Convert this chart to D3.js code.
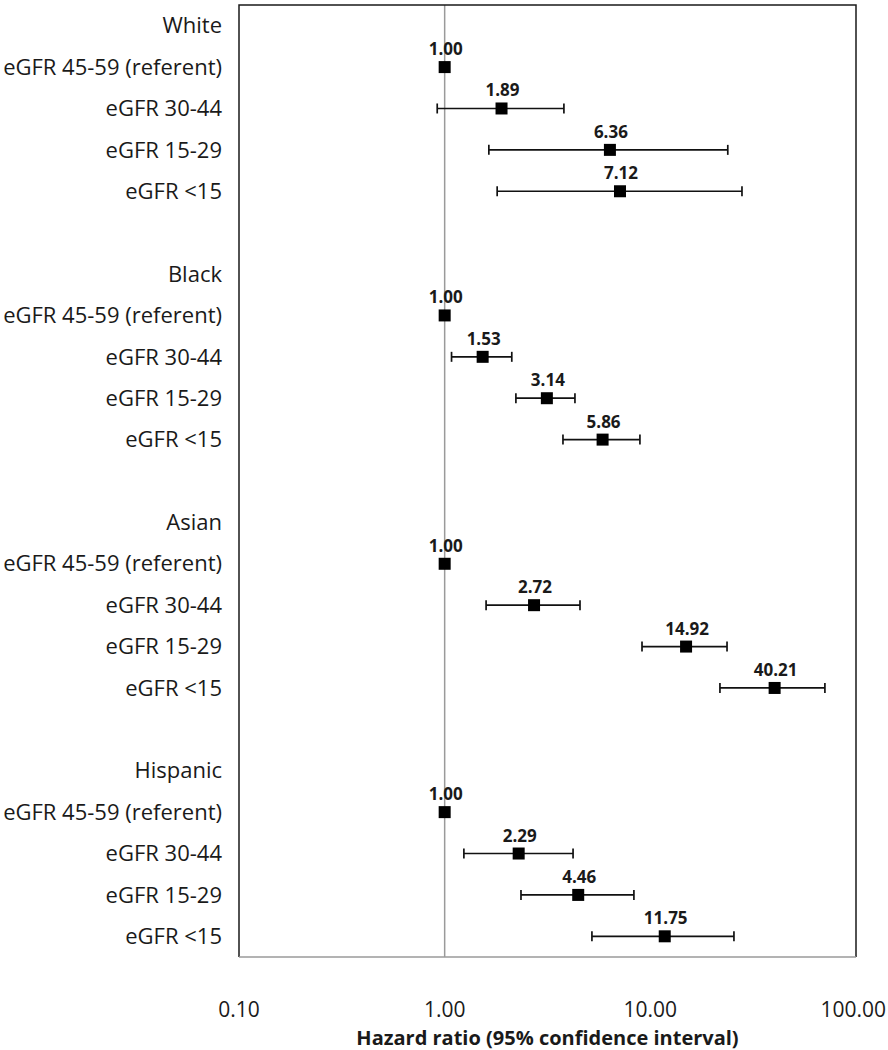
<!DOCTYPE html>
<html>
<head>
<meta charset="utf-8">
<script src="https://cdn.jsdelivr.net/npm/d3@7"></script>
<style>
  html, body { margin: 0; padding: 0; background: #fff; }
  svg { display: block; }
  text { font-family: "Open Sans", sans-serif; fill: #1a1a1a; }
</style>
</head>
<body>
<svg id="chart" width="888" height="1050"></svg>
<script>
// ---- data ----
const groups = ["White", "Black", "Asian", "Hispanic"];
const categories = ["eGFR 45-59 (referent)", "eGFR 30-44", "eGFR 15-29", "eGFR <15"];
const hrWhite    = [1.00, 1.89, 6.36, 7.12];
const hrBlack    = [1.00, 1.53, 3.14, 5.86];
const hrAsian    = [1.00, 2.72, 14.92, 40.21];
const hrHispanic = [1.00, 2.29, 4.46, 11.75];
const loWhite    = [null, 0.92, 1.64, 1.80];
const loBlack    = [null, 1.08, 2.22, 3.76];
const loAsian    = [null, 1.59, 9.11, 21.8];
const loHispanic = [null, 1.24, 2.35, 5.20];
const hiWhite    = [null, 3.80, 23.8, 27.9];
const hiBlack    = [null, 2.12, 4.30, 8.90];
const hiAsian    = [null, 4.55, 23.6, 70.6];
const hiHispanic = [null, 4.21, 8.32, 25.5];
const tickValues = [0.1, 1, 10, 100];
const xTitle = "Hazard ratio (95% confidence interval)";

const hrs = [hrWhite, hrBlack, hrAsian, hrHispanic];
const los = [loWhite, loBlack, loAsian, loHispanic];
const his = [hiWhite, hiBlack, hiAsian, hiHispanic];

// build rows: header, 4 categories, blank (between groups)
const rows = [];
groups.forEach((g, gi) => {
  rows.push({ key: "h" + gi, label: g, type: "header" });
  categories.forEach((c, ci) => {
    rows.push({ key: "r" + gi + "_" + ci, label: c, type: "row",
      hr: hrs[gi][ci], lo: los[gi][ci], hi: his[gi][ci] });
  });
  if (gi < groups.length - 1) rows.push({ key: "b" + gi, label: "", type: "blank" });
});

// ---- layout ----
const W = 888;
const box = { left: 239, right: 856, top: 5, bottom: 957 };
const svg = d3.select("#chart");

const x = d3.scaleLog().domain([0.1, 100]).range([box.left, box.right]);
const y = d3.scaleBand().domain(rows.map(r => r.key)).range([box.top, box.bottom]).padding(0);
const yc = k => y(k) + y.bandwidth() / 2;

// reference line at 1
svg.append("line")
  .attr("x1", x(1)).attr("x2", x(1))
  .attr("y1", box.top).attr("y2", box.bottom)
  .attr("stroke", "#9a9a9a").attr("stroke-width", 1.5);

// box: left/top/right dark, bottom gray
svg.append("path")
  .attr("d", `M${box.left},${box.bottom}V${box.top}H${box.right}V${box.bottom}`)
  .attr("fill", "none").attr("stroke", "#1a1a1a").attr("stroke-width", 1.5);
svg.append("line")
  .attr("x1", box.left).attr("x2", box.right)
  .attr("y1", box.bottom).attr("y2", box.bottom)
  .attr("stroke", "#9a9a9a").attr("stroke-width", 1.5);

// y labels
svg.append("g").selectAll("text")
  .data(rows.filter(r => r.type !== "blank"))
  .join("text")
  .attr("x", 222)
  .attr("y", d => yc(d.key))
  .attr("dy", "0.35em")
  .attr("text-anchor", "end")
  .attr("font-size", 22)
  .text(d => d.label);

const pts = rows.filter(r => r.type === "row");

// error bars
const eb = svg.append("g").attr("stroke", "#111").attr("stroke-width", 1.7);
const withCI = pts.filter(d => d.lo != null);
eb.selectAll("line.bar").data(withCI).join("line").attr("class", "bar")
  .attr("x1", d => x(d.lo)).attr("x2", d => x(d.hi))
  .attr("y1", d => yc(d.key)).attr("y2", d => yc(d.key));
eb.selectAll("line.capl").data(withCI).join("line").attr("class", "capl")
  .attr("x1", d => x(d.lo)).attr("x2", d => x(d.lo))
  .attr("y1", d => yc(d.key) - 5).attr("y2", d => yc(d.key) + 5);
eb.selectAll("line.caph").data(withCI).join("line").attr("class", "caph")
  .attr("x1", d => x(d.hi)).attr("x2", d => x(d.hi))
  .attr("y1", d => yc(d.key) - 5).attr("y2", d => yc(d.key) + 5);

// squares
const s = 12;
svg.append("g").selectAll("rect").data(pts).join("rect")
  .attr("x", d => x(d.hr) - s / 2)
  .attr("y", d => yc(d.key) - s / 2)
  .attr("width", s).attr("height", s)
  .attr("fill", "#000");

// value labels
svg.append("g").selectAll("text").data(pts).join("text")
  .attr("x", d => x(d.hr) + 1)
  .attr("y", d => yc(d.key) - 12)
  .attr("text-anchor", "middle")
  .attr("font-size", 17)
  .attr("font-weight", "bold")
  .text(d => d3.format(".2f")(d.hr));

// x tick labels (kept inside the page width)
svg.append("g").selectAll("text").data(tickValues).join("text")
  .attr("x", d => x(d))
  .attr("y", 1017)
  .attr("text-anchor", "middle")
  .attr("font-size", 21)
  .text(d => d3.format(".2f")(d))
  .each(function (d) {
    const w = this.getComputedTextLength();
    const cx = x(d);
    if (cx + w / 2 > W - 2) d3.select(this).attr("x", W - 2 - w / 2);
  });

// x title
svg.append("text")
  .attr("x", (box.left + box.right) / 2)
  .attr("y", 1045)
  .attr("text-anchor", "middle")
  .attr("font-size", 20)
  .attr("font-weight", "bold")
  .text(xTitle);
</script>
</body>
</html>
